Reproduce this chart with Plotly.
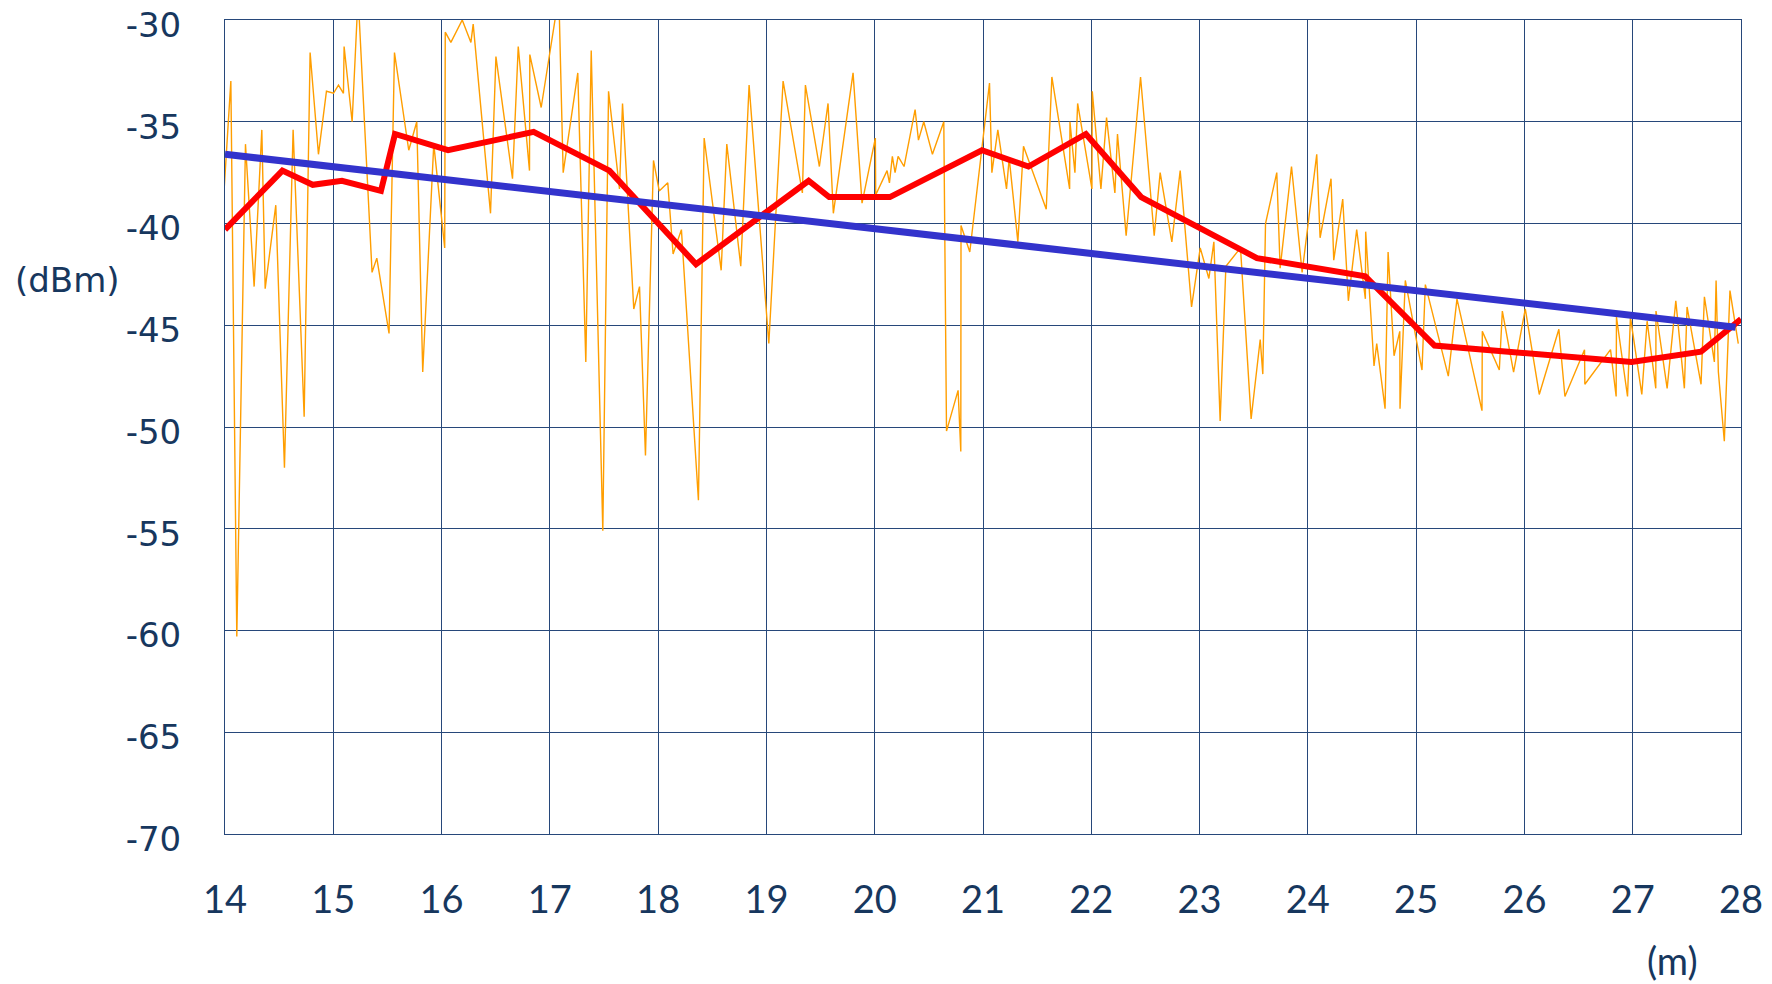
import plotly.graph_objects as go

# Raw measurement (orange)
orange_x = [13.955, 14.054, 14.109, 14.189, 14.269, 14.340, 14.371, 14.469, 14.549, 14.629,
            14.731, 14.786, 14.863, 14.937, 15.002, 15.048, 15.094, 15.100, 15.174, 15.229,
            15.358, 15.402, 15.515, 15.565, 15.697, 15.771, 15.826, 15.928, 16.029, 16.034,
            16.086, 16.191, 16.271, 16.292, 16.452, 16.502, 16.655, 16.708, 16.812, 16.815,
            16.920, 17.083, 17.123, 17.258, 17.332, 17.382, 17.489, 17.542, 17.643, 17.671,
            17.775, 17.828, 17.883, 17.957, 18.010, 18.089, 18.138, 18.215, 18.372, 18.425,
            18.582, 18.634, 18.763, 18.840, 19.022, 19.154, 19.332, 19.360, 19.489, 19.569,
            19.618, 19.800, 19.883, 20.006, 20.009, 20.114, 20.136, 20.163, 20.188, 20.216,
            20.271, 20.373, 20.404, 20.453, 20.533, 20.638, 20.663, 20.770, 20.795, 20.797,
            20.878, 20.989, 21.060, 21.082, 21.137, 21.217, 21.242, 21.322, 21.374, 21.584,
            21.636, 21.800, 21.803, 21.849, 21.874, 22.006, 22.009, 22.089, 22.141, 22.218,
            22.242, 22.322, 22.455, 22.581, 22.636, 22.744, 22.821, 22.926, 23.006, 23.086,
            23.132, 23.190, 23.243, 23.378, 23.476, 23.560, 23.584, 23.609, 23.713, 23.744,
            23.849, 23.947, 24.082, 24.113, 24.214, 24.239, 24.322, 24.374, 24.451, 24.531,
            24.534, 24.611, 24.636, 24.713, 24.741, 24.796, 24.849, 24.851, 24.900, 25.054,
            25.085, 25.297, 25.377, 25.608, 25.611, 25.768, 25.796, 25.900, 26.008, 26.137,
            26.318, 26.374, 26.555, 26.558, 26.795, 26.847, 26.850, 26.952, 26.979, 27.084,
            27.133, 27.213, 27.215, 27.318, 27.398, 27.477, 27.502, 27.631, 27.662, 27.754,
            27.770, 27.791, 27.846, 27.898, 27.975]
orange_y = [-41.5, -33.0, -60.3, -36.1, -43.1, -35.4, -43.2, -39.1, -52.0, -35.4,
            -49.5, -31.6, -36.6, -33.5, -33.6, -33.2, -33.6, -31.3, -35.0, -28.8,
            -42.4, -41.7, -45.4, -31.6, -36.4, -35.0, -47.3, -36.1, -41.2, -30.6,
            -31.1, -30.0, -31.1, -30.2, -39.5, -31.8, -37.8, -31.3, -37.4, -31.7,
            -34.3, -28.8, -37.5, -32.6, -46.8, -31.5, -55.1, -33.5, -38.3, -34.1,
            -44.2, -43.1, -51.4, -36.9, -38.4, -38.0, -41.5, -40.3, -53.6, -35.8,
            -42.3, -36.1, -42.1, -33.2, -45.9, -33.0, -38.5, -33.2, -37.2, -34.1,
            -39.5, -32.6, -39.0, -35.8, -38.6, -37.4, -38.0, -36.7, -37.5, -36.7,
            -37.2, -34.4, -35.9, -35.0, -36.6, -35.0, -50.2, -48.2, -51.2, -40.1,
            -41.4, -36.3, -33.1, -37.5, -35.4, -38.3, -36.8, -40.9, -36.2, -39.3,
            -32.8, -38.3, -35.0, -37.5, -34.1, -38.3, -33.5, -38.3, -34.8, -38.5,
            -35.6, -40.6, -32.8, -40.6, -37.5, -40.9, -37.4, -44.1, -41.2, -42.7,
            -40.9, -49.7, -42.1, -41.2, -49.6, -45.7, -47.4, -40.0, -37.5, -42.2,
            -37.2, -42.4, -36.6, -40.7, -37.8, -41.8, -38.8, -43.8, -40.3, -43.7,
            -40.4, -47.0, -45.9, -49.1, -41.4, -46.5, -45.3, -49.1, -42.8, -47.2,
            -43.0, -47.5, -43.7, -49.2, -45.3, -47.2, -44.3, -47.3, -44.2, -48.4,
            -45.2, -48.5, -46.2, -47.9, -46.2, -48.5, -44.6, -48.5, -44.6, -48.4,
            -44.8, -48.1, -44.3, -48.1, -43.8, -48.1, -44.1, -47.9, -43.6, -46.8,
            -42.8, -47.3, -50.7, -43.3, -45.9]

# Smoothed (red)
avg_x = [14.0, 14.53, 14.81, 15.08, 15.44, 15.57, 16.06, 16.85, 17.55, 18.35,
         19.39, 19.58, 20.14, 20.99, 21.42, 21.95, 22.46, 23.53, 24.53, 25.17,
         26.99, 27.63, 28.0]
avg_y = [-40.3, -37.4, -38.1, -37.9, -38.4, -35.6, -36.4, -35.5, -37.4, -42.0,
         -37.9, -38.7, -38.7, -36.4, -37.2, -35.6, -38.7, -41.7, -42.6, -46.0,
         -46.8, -46.3, -44.7]

# Linear trend (blue)
trend_x = [14.0, 27.95]
trend_y = [-36.6, -45.1]

x_ticks = list(range(14, 29))
y_ticks = [-30, -35, -40, -45, -50, -55, -60, -65, -70]

navy = "#17375E"
grid = "#27487A"

fig = go.Figure()
fig.add_trace(go.Scatter(x=orange_x, y=orange_y, mode="lines",
                         line=dict(color="#FF9E00", width=1.4), showlegend=False))
fig.add_trace(go.Scatter(x=avg_x, y=avg_y, mode="lines",
                         line=dict(color="#FF0000", width=6), showlegend=False))
fig.add_trace(go.Scatter(x=trend_x, y=trend_y, mode="lines",
                         line=dict(color="#3333CC", width=7), showlegend=False))

fig.update_layout(
    width=1772, height=984,
    margin=dict(l=217, r=39, t=12, b=158, autoexpand=False),
    plot_bgcolor="white", paper_bgcolor="white",
    xaxis=dict(range=[14, 28], tickvals=x_ticks, ticktext=[str(v) for v in x_ticks],
               showgrid=True, gridcolor=grid, gridwidth=1,
               showline=True, linecolor=grid, linewidth=1, mirror=True,
               zeroline=False, ticks="", ticklabelstandoff=32, automargin=False,
               ticklabeloverflow="allow",
               tickfont=dict(family="Lato, Open Sans, sans-serif", size=38, color=navy)),
    yaxis=dict(range=[-70, -30], tickvals=y_ticks, ticktext=[str(v) for v in y_ticks],
               showgrid=True, gridcolor=grid, gridwidth=1,
               showline=True, linecolor=grid, linewidth=1, mirror=True,
               zeroline=False, ticks="", ticklabelstandoff=36, automargin=False,
               ticklabeloverflow="allow", ticklabelshift=5,
               tickfont=dict(family="DejaVu Sans, sans-serif", size=34, color=navy)),
    annotations=[
        dict(text="(dBm)", xref="paper", yref="paper", x=-0.1036, y=0.6806,
             xanchor="center", yanchor="middle", showarrow=False,
             font=dict(family="DejaVu Sans, sans-serif", size=34, color=navy)),
        dict(text="(m)", xref="paper", yref="paper", x=0.9545, y=-0.1548,
             xanchor="center", yanchor="middle", showarrow=False,
             font=dict(family="Lato, Open Sans, sans-serif", size=38, color=navy)),
    ],
)

fig.write_html("out.html")
